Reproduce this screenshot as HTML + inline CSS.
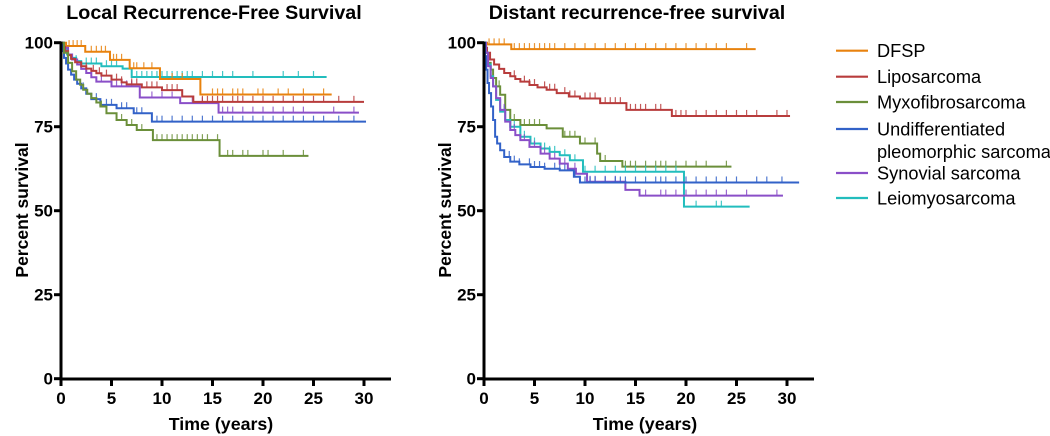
<!DOCTYPE html>
<html><head><meta charset="utf-8"><style>
body{margin:0;background:#fff;}
svg{display:block;font-family:"Liberation Sans",Arial,sans-serif;}
</style></head><body>
<svg id="chart" width="1050" height="436" viewBox="0 0 1050 436"></svg>
<script>
// ---- data: Local recurrence-free survival ----
const lrDfspT=[0,0.5,2.4,4.85,6.8,9.8,13.8];
const lrDfspS=[100,99,97.3,94.9,92.4,89.2,84.6];
const lrDfspC=[0.8,1.2,1.6,2,3,3.5,4,4.4,5.2,5.5,6,7.2,7.5,8.2,9,11,12,15,15.5,16,17,17.5,18,19.5,20,21.5,22.5,24,26];
const lrLeioT=[0,0.3,0.6,1,1.5,2,4,6.1,7];
const lrLeioS=[100,98,96.5,95.5,94.5,93.8,93,92.3,89.8];
const lrLeioC=[1.5,2.5,3,3.5,4.5,5,5.5,7.5,8,8.5,9,9.5,10,10.5,11,11.5,12,12.5,13,14,15,16,17,19,22,23.5,25];
const lrLipoT=[0,0.2,0.4,0.7,1,1.4,2,2.5,3,3.5,4,5,6,6.5,8,10,12,13.1];
const lrLipoS=[100,98.8,97.5,96.3,95.2,94.2,93,92.3,91.6,90.9,90.2,89,88.2,87.6,86.7,85.9,84,82.4];
const lrLipoC=[2.5,3.2,3.8,4.5,5.5,6,7,7.5,8.5,9,9.5,10.5,11,11.5,14,14.5,15,15.5,16,17,17.5,18,19,20,21,22,23,24,25,26,27.5,29];
const lrSynT=[0,0.3,0.7,1.1,1.6,2,2.5,3,3.5,5,7.8,11.8,15.6];
const lrSynS=[100,98.5,96.5,95,93.5,92.2,91,89.7,88.4,87,83.7,82,79.2];
const lrSynC=[3,4,5.5,6,6.5,7,9,10,11,13,14,16,16.5,17,18,19,20,21,22,23,24,27,29];
const lrUpsT=[0,0.15,0.3,0.5,0.7,1,1.3,1.6,2,2.5,3,3.9,5.5,7.2,9];
const lrUpsS=[100,97.5,95.5,93.8,92,90.5,89,87.8,86.4,84.8,83.2,81.5,80.5,79,76.5];
const lrUpsC=[2.2,3,3.5,4.5,5,6,6.5,7.5,8,9.5,10,11,12,13,14,15,16,17,18,19,20,21,22,23,24,25,26,27.5,29];
const lrMyxT=[0,0.3,0.7,1.1,1.5,1.9,2.2,2.6,3,3.5,3.9,4.5,5.5,6.5,7.5,9.1,15.7];
const lrMyxS=[100,97,94,91.5,89,87.5,86,84.8,83.5,82.2,81,79,77,75.5,74,71,66.3];
const lrMyxC=[4,6,7,8,9.5,10,10.5,11,11.5,12,12.5,13,13.5,14,14.5,15.5,16.5,17,18,18.5,20,20.5,22,24];
// ---- data: Distant recurrence-free survival ----
const drDfspT=[0,0.3,2.7];
const drDfspS=[100,99.5,98.1];
const drDfspC=[0.5,1,1.5,2,3,3.5,4,4.5,5,5.5,6,6.5,7,8,9,10,11,12,13,14,15,16,17,18,19,20,21,22,23,24,26];
const drLipoT=[0,0.15,0.3,0.6,1,1.5,2,2.6,3.1,3.6,4.5,5.3,6.2,7.2,8.4,9.5,11.5,14.1,18.6];
const drLipoS=[100,98.5,97,95,93.5,92.2,91,90,89.2,88.4,87.4,86.7,86,85,84,83.4,82,80,78.2];
const drLipoC=[3,4,4.5,5,6,6.5,7,8,8.5,9,10,10.5,11,12,12.5,13,13.5,14.5,15,15.5,16,17,17.5,19,19.5,20,21,22,23,24,25,26,27,29,30];
const drMyxT=[0,0.2,0.4,0.66,0.9,1.2,1.6,2.1,2.6,3.6,6.2,7.8,9.5,11.2,11.5,13.7];
const drMyxS=[100,97,94,92,89.5,87,84.5,80,77,75.5,74.5,72,70,67,64.8,63.1];
const drMyxC=[1.5,3,4,4.5,5,5.5,8,8.5,9,10,11,12,14,14.5,15,16,17,17.5,18,19,20,21,22,24];
const drUpsT=[0,0.1,0.2,0.35,0.5,0.7,0.9,1.1,1.3,1.6,2,2.6,3.5,4.6,6,7.5,8.9,9.5];
const drUpsS=[100,96,92,88,85,81,77,72,70,68,66,64.6,63.8,63,62.5,62,60.1,58.4];
const drUpsC=[2,2.5,3,3.5,4.5,5,5.5,6,7,7.5,8,9,10,10.5,11,12,13,13.5,14,15,16,17,17.5,18,19,20,21,22,23,24,25,27,28,29.5];
const drSynT=[0,0.2,0.4,0.66,0.9,1.2,1.6,2.1,2.6,3.1,3.6,4.5,5.6,6.5,7.5,8.3,9.1,10.2,14,15.4];
const drSynS=[100,97,93,89.5,87,83.5,80,76.5,74,72.5,71,69,67,65.5,64,62.5,61,58.6,56.2,54.5];
const drSynC=[2,3,4,5,6,7,8,9,10.5,11,12,13,16,17.5,18,19,20,21,22,23,24,26,29];
const drLeioT=[0,0.2,0.4,0.66,0.9,1.2,1.6,2.1,2.6,3.6,4.6,5.6,6.5,7.5,8.5,9.8,19.8];
const drLeioS=[100,97,93.5,90,87,83,79.5,77,75,72,70,68.5,67.5,66.5,65,61.6,51.2];
const drLeioC=[2,3,4,5,6,6.5,7,8,9,10,11,12,13,14,15,16,17,18,19,21,23,23.5];
const yTicks=[0,25,50,75,100];
const xTicks=[0,5,10,15,20,25,30];
const legendLabels=["DFSP","Liposarcoma","Myxofibrosarcoma","Undifferentiated","Synovial sarcoma","Leiomyosarcoma"];

const NS="http://www.w3.org/2000/svg";
const svg=document.getElementById('chart');
function mk(tag,attrs,parent){const e=document.createElementNS(NS,tag);for(const k in attrs)e.setAttribute(k,attrs[k]);(parent||svg).appendChild(e);return e;}
const COL={dfsp:"#e8820e",lipo:"#b83c3c",myx:"#6b8f3a",ups:"#3262c8",syn:"#8a4fc8",leio:"#22bdbd"};
const X_SCALE=10.1, Y_TOP=42.7, Y_SCALE=3.36;
function yS(p){return Y_TOP+(100-p)*Y_SCALE;}

function panel(x0,title,titleX,xTitleX,series,key){
  const g=mk('g',{});
  
  
  const xS=t=>x0+t*X_SCALE;
  const t1=mk('text',{x:titleX,y:19,'text-anchor':'middle','font-size':19.7,'font-weight':'bold',fill:'#000'},g);
  t1.textContent=title;
  
  
  series.forEach(s=>{
    const sg=mk('g',{},g);
    
    
    let d='M'+xS(s.T[0])+' '+yS(s.S[0]);
    for(let i=1;i<s.T.length;i++){d+=' H'+xS(s.T[i])+' V'+yS(s.S[i]);}
    d+=' H'+xS(s.end);
    mk('path',{d:d,fill:'none',stroke:s.c,'stroke-width':2},sg);
    s.C.forEach(c=>{
      let v=s.S[0];for(let i=0;i<s.T.length;i++){if(s.T[i]<=c)v=s.S[i];}
      const tk=mk('line',{x1:xS(c),x2:xS(c),y1:yS(v),y2:yS(v)-6,stroke:s.c,'stroke-width':1.2,'stroke-opacity':0.85},sg);
      
      
    });
  });
  const ya=mk('line',{x1:x0,x2:x0,y1:41.5,y2:380.5,stroke:'#000','stroke-width':3},g);
  
  
  const xa=mk('line',{x1:x0-1,x2:x0+330,y1:379,y2:379,stroke:'#000','stroke-width':3},g);
  
  
  yTicks.forEach(v=>{
    mk('line',{x1:x0-7,x2:x0,y1:yS(v),y2:yS(v),stroke:'#000','stroke-width':3},g);
    const t=mk('text',{x:x0-8,y:yS(v)+6,'text-anchor':'end','font-size':17,'font-weight':'bold'},g);
    t.textContent=v;
    
    
  });
  xTicks.forEach(v=>{
    mk('line',{x1:xS(v),x2:xS(v),y1:379,y2:386,stroke:'#000','stroke-width':3},g);
    const t=mk('text',{x:xS(v),y:404,'text-anchor':'middle','font-size':17,'font-weight':'bold'},g);
    t.textContent=v;
    
    
  });
  const xt=mk('text',{x:xTitleX,y:430,'text-anchor':'middle','font-size':17.8,'font-weight':'bold'},g);
  xt.textContent='Time (years)';
  
  
  const yt=mk('text',{x:0,y:0,'text-anchor':'middle','font-size':17.5,'font-weight':'bold',transform:'translate('+(x0-33)+',210) rotate(-90)'},g);
  yt.textContent='Percent survival';
  
  
}
panel(61,'Local Recurrence-Free Survival',214,221,[
  {name:'leiomyosarcoma',T:lrLeioT,S:lrLeioS,C:lrLeioC,end:26.3,c:COL.leio},
  {name:'dfsp',T:lrDfspT,S:lrDfspS,C:lrDfspC,end:26.8,c:COL.dfsp},
  {name:'synovial',T:lrSynT,S:lrSynS,C:lrSynC,end:29.5,c:COL.syn},
  {name:'liposarcoma',T:lrLipoT,S:lrLipoS,C:lrLipoC,end:30,c:COL.lipo},
  {name:'ups',T:lrUpsT,S:lrUpsS,C:lrUpsC,end:30.2,c:COL.ups},
  {name:'myxofibrosarcoma',T:lrMyxT,S:lrMyxS,C:lrMyxC,end:24.5,c:COL.myx}
],'lrfs');
panel(484,'Distant recurrence-free survival',637,645,[
  {name:'dfsp',T:drDfspT,S:drDfspS,C:drDfspC,end:26.9,c:COL.dfsp},
  {name:'liposarcoma',T:drLipoT,S:drLipoS,C:drLipoC,end:30.3,c:COL.lipo},
  {name:'myxofibrosarcoma',T:drMyxT,S:drMyxS,C:drMyxC,end:24.5,c:COL.myx},
  {name:'leiomyosarcoma',T:drLeioT,S:drLeioS,C:drLeioC,end:26.3,c:COL.leio},
  {name:'synovial',T:drSynT,S:drSynS,C:drSynC,end:29.6,c:COL.syn},
  {name:'ups',T:drUpsT,S:drUpsS,C:drUpsC,end:31.2,c:COL.ups}
],'drfs');
// legend
const lg=mk('g',{});


const legCols=[COL.dfsp,COL.lipo,COL.myx,COL.ups,COL.syn,COL.leio];
const legY=[50.7,76.7,102,129,173,198];
legendLabels.forEach((lab,i)=>{
  const e=mk('g',{},lg);
  
  
  mk('line',{x1:836,x2:868,y1:legY[i],y2:legY[i],stroke:legCols[i],'stroke-width':2.2},e);
  const t=mk('text',{x:877,y:legY[i]+6.5,'font-size':18.2,fill:'#000'},e);
  t.textContent=lab;
  if(i===3){const t2=mk('text',{x:877,y:158,'font-size':18.2,fill:'#000'},e);t2.textContent='pleomorphic sarcoma';}
});
</script>
</body></html>
